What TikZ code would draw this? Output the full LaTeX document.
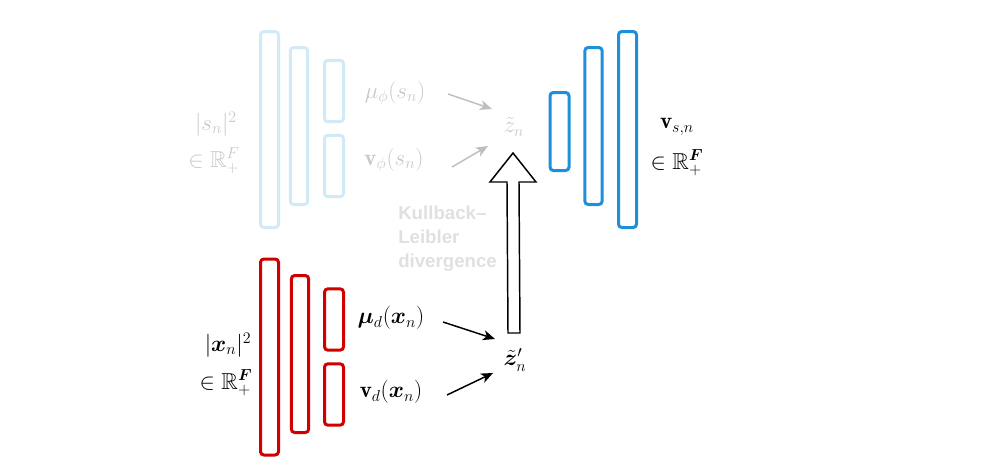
\documentclass[tikz,border=0pt]{standalone}
\usepackage{fontspec}
\usepackage{amsmath,amssymb,bm}
\usetikzlibrary{arrows.meta,calc}
\newfontfamily\klfont{Liberation Sans}
\definecolor{lightblue}{RGB}{210,233,248}
\definecolor{deepblue}{RGB}{30,144,219}
\definecolor{deepred}{RGB}{208,0,0}
\definecolor{fadetext}{RGB}{200,200,200}
\definecolor{fadearrow}{RGB}{190,190,190}
\definecolor{kltext}{RGB}{224,224,224}
\begin{document}
\begin{tikzpicture}[x=0.75pt,y=-0.75pt,
  layerbox/.style={draw, line width=2.25pt, rounded corners=2.5pt, inner sep=0pt, fill=none},
  tallbox/.style={layerbox, minimum width=13.5pt, minimum height=147pt},
  midbox/.style={layerbox, minimum width=13pt, minimum height=117.75pt},
  smallbox/.style={layerbox, minimum width=14.25pt, minimum height=46pt},
  mtext/.style={font=\LARGE, inner sep=0pt},
  arr/.style={line width=1.1pt, -{Stealth[length=9pt,width=7.5pt,inset=2.5pt]}},
  bigarrow/.style={draw=black, line width=1.1pt, fill=white, line join=miter}
]
\useasboundingbox (0,0) rectangle (1008,471);

% top (faded) encoder
\node[tallbox, draw=lightblue] (t1) at (269.5,129.5) {};
\node[midbox, draw=lightblue] (t2) at (299,126) {};
\node[smallbox, draw=lightblue] (t3) at (334,91) {};
\node[smallbox, draw=lightblue] (t4) at (334,166) {};
\node[mtext, text=fadetext] (snA) at (216,124) {$|s_n|^2$};
\node[mtext, text=fadetext] (snB) at (214,161) {$\in\mathbb{R}_+^F$};
\node[mtext, text=fadetext] (muphi) at (395,93) {$\mu_\phi(s_n)$};
\node[mtext, text=fadetext] (vphi) at (394,160) {$\mathbf{v}_\phi(s_n)$};
\node[mtext, text=fadetext] (zt) at (514,127) {$\tilde{z}_n$};

% bottom (red) encoder
\node[tallbox, draw=deepred] (r1) at (269.5,357) {};
\node[midbox, draw=deepred] (r2) at (300,354) {};
\node[smallbox, draw=deepred] (r3) at (334,319.5) {};
\node[smallbox, draw=deepred] (r4) at (334,394.5) {};
\node[mtext] (xnA) at (228,345) {$|\bm{x}_n|^2$};
\node[mtext] (xnB) at (226,383) {$\in\mathbb{R}_+^{\bm{F}}$};
\node[mtext] (mud) at (391,318) {$\bm{\mu}_d(\bm{x}_n)$};
\node[mtext] (vd) at (391,392) {$\mathbf{v}_d(\bm{x}_n)$};
\node[mtext] (zp) at (515,360) {$\tilde{\bm{z}}'_n$};

% decoder (blue)
\node[layerbox, draw=deepblue, minimum width=14.25pt, minimum height=58.5pt] (b1) at (559.5,131.5) {};
\node[midbox, draw=deepblue] (b2) at (593.5,126) {};
\node[tallbox, draw=deepblue] (b3) at (627.5,129.5) {};
\node[mtext] (vsA) at (677,127) {$\mathbf{v}_{s,n}$};
\node[mtext] (vsB) at (677,163) {$\in\mathbb{R}_+^{\bm{F}}$};

% KL text
\node[font=\klfont\bfseries\fontsize{14}{18}\selectfont, text=kltext, align=left, anchor=west, inner sep=0pt] (kl) at (398,239) {Kullback–\\Leibler\\divergence};

% small arrows
\draw[arr, draw=fadearrow, fill=fadearrow] ($(muphi)+(53,1)$) -- ($(zt)+(-22,-18)$);
\draw[arr, draw=fadearrow, fill=fadearrow] ($(vphi)+(58,7)$) -- ($(zt)+(-26,19)$);
\draw[arr] ($(mud)+(52,4)$) -- ($(zp)+(-20,-21)$);
\draw[arr] ($(vd)+(56,3)$) -- ($(zp)+(-22,13)$);

% big arrow from z' to z~
\coordinate (ab) at ($(zp)+(-1,-27)$);
\coordinate (at) at ($(zt)+(-1,26)$);
\path[bigarrow] ($(ab)+(-6,0)$) -- ($(at)+(-6,29)$) -- ($(at)+(-23,29)$) -- (at) -- ($(at)+(23,29)$) -- ($(at)+(6,29)$) -- ($(ab)+(6,0)$) -- cycle;
\end{tikzpicture}
\end{document}
